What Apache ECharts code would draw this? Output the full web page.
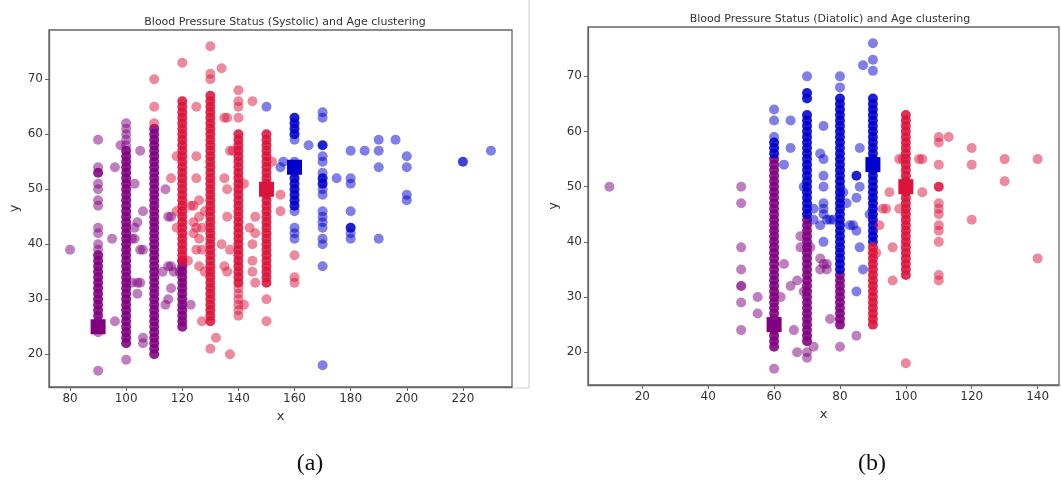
<!DOCTYPE html>
<html>
<head>
<meta charset="utf-8">
<script src="https://cdn.jsdelivr.net/npm/echarts@6/dist/echarts.min.js"></script>
<style>
  html, body { margin: 0; padding: 0; background: #fff; }
  #chart { width: 1061px; height: 503px; }
</style>
</head>
<body>
<div id="chart"></div>
<script>
// ---- dados: [coluna x, idades y, repeticoes por ponto (opcional)] ----
// (a) sistolica
var sysPurple = [
  [80, [39]],
  [90, [17,24,26,39,40,42,43,47,48,50,51,54,59]],
  [90, [27,28,29,30,31,32,33,34,35,36,37,38,53], 3],
  [95, [41]], [96, [26,54]], [98, [58]],
  [100, [19,58,59,60,61,62]],
  [100, [22,23,24,25,26,27,28,29,30,31,32,33,34,35,36,37,38,39,40,41,42,43,44,45,46,47,48,49,50,51,52,53,54,55,56,57], 3],
  [102, [33,41]], [103, [51,43,41]], [104, [44,31,33]], [105, [57,39,33]], [106, [46,39,23,22]],
  [110, [20,21,22,23,24,25,26,27,28,29,30,31,32,33,34,35,36,37,38,39,40,41,42,43,44,45,46,47,48,49,50,51,52,53,54,55,56,57,58,59,60,61], 3],
  [113, [35]], [114, [50,29]], [115, [36,45,30]], [116, [36,45,32]], [117, [35]], [119, [35]],
  [120, [25,26,27,28,29,30,31,32,33,34,35,36,37], 3],
  [123, [29]]
];
var sysRed = [
  [110, [62,65,70]],
  [116, [52]], [118, [46,43,56]],
  [120, [73]],
  [120, [37,38,39,40,41,42,43,44,45,46,47,48,49,50,51,52,53,54,55,56,57,58,59,60,61,62,63,64,65,66], 3],
  [122, [37]], [123, [47]], [124, [47,44,42]], [125, [65,56,52,43,39]], [126, [48,45,41,36]],
  [127, [43,39,26]], [128, [35,46]],
  [130, [21,70,71,76]],
  [130, [26,27,28,29,30,31,32,33,34,35,36,37,38,39,40,41,42,43,44,45,46,47,48,49,50,51,52,53,54,55,56,57,58,59,60,61,62,63,64,65,66,67], 3],
  [132, [23]], [134, [72,40]], [135, [63,52,36]], [136, [63,50,45,35]], [137, [57,39,20]], [138, [57]],
  [140, [27,28,29,30,31,32,63,65,66,68]],
  [140, [33,34,35,36,37,38,39,40,41,42,43,44,45,46,47,48,49,50,51,52,53,54,55,56,57,58,59,60], 3],
  [142, [51,29]], [144, [43]], [145, [66,40,37,35]], [146, [45,42,33]],
  [150, [26,30]],
  [150, [33,34,35,36,37,38,39,40,41,42,43,44,45,46,47,48,49,50,51,52,53,54,55,56,57,58,59,60], 3],
  [152, [55]], [155, [49,46]],
  [160, [33,34,38]]
];
var sysBlue = [
  [150, [65]], [155, [54]], [156, [55]],
  [160, [41,42,43,46,53,54,55,59]],
  [160, [47,48,49,50,51,52,60,61,62,63], 3],
  [165, [58]],
  [170, [18,36,40,41,43,44,45,46,49,50,53,55,56,63,64]],
  [170, [51,52,58], 3],
  [175, [52]],
  [180, [41,42,46,51,52,57]],
  [180, [43], 3],
  [185, [57]],
  [190, [41,54,57,59]],
  [196, [59]],
  [200, [48,49,54,56]],
  [220, [55], 2],
  [230, [57]]
];
var sysCentros = [[90, 25, '#800080'], [150, 50, '#DC143C'], [160, 54, '#0000CD']];

// (b) diastolica
var diaPurple = [
  [10, [50]],
  [50, [24,29,35,39,47,50]],
  [50, [32], 2],
  [55, [27,30]],
  [60, [17]],
  [60, [21,22,23,24,25,26,27,28,29,30,31,32,33,34,35,36,37,38,39,40,41,42,43,44,45,46,47,48,49,50,51,52,53,54,55], 3],
  [62, [30]], [63, [36]], [65, [32]], [66, [24]], [67, [20,33]], [68, [39,41]], [69, [31]],
  [70, [19,20]],
  [70, [22,23,24,25,26,27,28,29,30,31,32,33,34,35,36,37,38,39,40,41,42,43,44], 3],
  [71, [39]], [72, [21]], [74, [35,37]], [75, [36]], [76, [36,35]], [77, [26]],
  [80, [21]],
  [80, [25,26,27,28,29,30,31,32,33,34], 3],
  [85, [23]]
];
var diaBlue = [
  [60, [59,62,64]],
  [60, [56,57,58], 3],
  [63, [54]], [65, [62,57]], [69, [50]],
  [70, [70]],
  [70, [45,46,47,48,49,50,51,52,53,54,55,56,57,58,59,60,61,62,63,66,67], 3],
  [72, [46,44]], [74, [56,43]], [75, [61,55,52,50,47,46,45,40]], [76, [44]], [77, [44]], [78, [44]],
  [80, [68,70]],
  [80, [35,36,37,38,39,40,41,42,43,44,45,46,47,48,49,50,51,52,53,54,55,56,57,58,59,60,61,62,63,64,65,66], 3],
  [81, [49]], [82, [47]], [83, [43]], [84, [43]], [85, [42,48,31]], [85, [52], 3], [86, [57,50,39]], [87, [35,72]],
  [89, [45]],
  [90, [71,73,76]],
  [90, [40,41,42,43,44,45,46,47,48,49,50,51,52,53,54,55,56,57,58,59,60,61,62,63,64,65,66], 3]
];
var diaRed = [
  [90, [25,26,27,28,29,30,31,32,33,34,35,36,37,38,39], 3],
  [91, [38]], [92, [43]], [93, [46]], [94, [46]], [95, [49]], [96, [39,33]], [98, [46,55]], [99, [55]],
  [100, [18]],
  [100, [34,35,36,37,38,39,40,41,42,43,44,45,46,47,48,49,50,51,52,53,54,55,56,57,58,59,60,61,62,63], 3],
  [104, [55]], [105, [55,49]],
  [110, [33,34,40,42,43,45,46,47,54,58,59]],
  [110, [50], 3],
  [113, [59]],
  [120, [44,54,57]],
  [130, [51,55]],
  [140, [37,55]]
];
var diaCentros = [[60, 25, '#800080'], [90, 54, '#0000CD'], [100, 50, '#DC143C']];

var xTicksA = [80, 100, 120, 140, 160, 180, 200, 220];
var xTicksB = [20, 40, 60, 80, 100, 120, 140];
var yTicks = [20, 30, 40, 50, 60, 70];

// transforma colunas em pontos; pontos repetidos ficam mais opacos (alpha 0.5 empilhado)
function pontos(cols) {
    var out = [];
    cols.forEach(function (c) {
        var n = c[2] || 1;
        var op = 1 - Math.pow(0.5, n);
        c[1].forEach(function (y) {
            out.push({ value: [c[0], y], itemStyle: { opacity: op } });
        });
    });
    return out;
}

function serieClusters(cols, cor, idx) {
    return {
        type: 'scatter',
        xAxisIndex: idx, yAxisIndex: idx,
        symbol: 'circle',
        symbolSize: 10,
        data: pontos(cols),
        itemStyle: { color: cor },
        emphasis: { disabled: true },
        silent: true
    };
}

function serieCentros(list, idx) {
    return {
        type: 'scatter',
        xAxisIndex: idx, yAxisIndex: idx,
        symbol: 'rect',
        symbolSize: 15,
        data: list.map(function (c) { return { value: [c[0], c[1]], itemStyle: { color: c[2] } }; }),
        itemStyle: { opacity: 1 },
        z: 5,
        silent: true
    };
}

var fonte = 'DejaVu Sans';
var corTexto = '#333';

function eixoX(idx, min, max, ticks) {
    return {
        type: 'value', gridIndex: idx, min: min, max: max,
        name: 'x', nameLocation: 'middle', nameGap: 23,
        nameTextStyle: { fontFamily: fonte, fontSize: 13, color: corTexto },
        axisLine: { show: true, onZero: false, lineStyle: { color: '#666', width: 1.3 } },
        axisTick: { show: true, length: 4, customValues: ticks, lineStyle: { color: '#666' } },
        axisLabel: { customValues: ticks, fontFamily: fonte, fontSize: 12, color: corTexto, margin: 6 },
        splitLine: { show: false }
    };
}

function eixoY(idx) {
    return {
        type: 'value', gridIndex: idx, min: 14.05, max: 78.95,
        name: 'y', nameLocation: 'middle', nameGap: 28,
        nameTextStyle: { fontFamily: fonte, fontSize: 13, color: corTexto },
        axisLine: { show: true, onZero: false, lineStyle: { color: '#666', width: 1.3 } },
        axisTick: { show: true, length: 4, customValues: yTicks, lineStyle: { color: '#666' } },
        axisLabel: { customValues: yTicks, fontFamily: fonte, fontSize: 12, color: corTexto, margin: 6 },
        splitLine: { show: false }
    };
}

var myChart = echarts.init(document.getElementById('chart'), null, { renderer: 'canvas' });
var option = {
    backgroundColor: '#fff',
    animation: false,
    title: [
        { text: 'Blood Pressure Status (Systolic) and Age clustering', left: 280, top: 12, textAlign: 'center',
          textStyle: { fontFamily: fonte, fontSize: 11, fontWeight: 'normal', color: corTexto } },
        { text: 'Blood Pressure Status (Diatolic) and Age clustering', left: 825, top: 9, textAlign: 'center',
          textStyle: { fontFamily: fonte, fontSize: 11, fontWeight: 'normal', color: corTexto } },
        { text: '(a)', left: 305, top: 447, textAlign: 'center',
          textStyle: { fontFamily: 'Liberation Serif', fontSize: 24, fontWeight: 'normal', color: '#111' } },
        { text: '(b)', left: 867, top: 447, textAlign: 'center',
          textStyle: { fontFamily: 'Liberation Serif', fontSize: 24, fontWeight: 'normal', color: '#111' } }
    ],
    grid: [
        { left: 49, top: 30, width: 463, height: 357, show: true, borderColor: '#666', borderWidth: 1.3, backgroundColor: 'transparent' },
        { left: 588, top: 27, width: 471, height: 358, show: true, borderColor: '#666', borderWidth: 1.3, backgroundColor: 'transparent' }
    ],
    xAxis: [eixoX(0, 72.5, 237.5, xTicksA), eixoX(1, 3.5, 146.5, xTicksB)],
    yAxis: [eixoY(0), eixoY(1)],
    graphic: [
        { type: 'polyline', silent: true,
          shape: { points: [[514, 388], [529, 388], [529, 0]] },
          style: { stroke: '#ccc', lineWidth: 1, fill: null } }
    ],
    series: [
        serieClusters(sysPurple, '#800080', 0),
        serieClusters(sysRed, '#DC143C', 0),
        serieClusters(sysBlue, '#0000CD', 0),
        serieCentros(sysCentros, 0),
        serieClusters(diaPurple, '#800080', 1),
        serieClusters(diaBlue, '#0000CD', 1),
        serieClusters(diaRed, '#DC143C', 1),
        serieCentros(diaCentros, 1)
    ]
};

if (option && typeof option === "object") {
    myChart.setOption(option, true);
}
</script>
</body>
</html>
